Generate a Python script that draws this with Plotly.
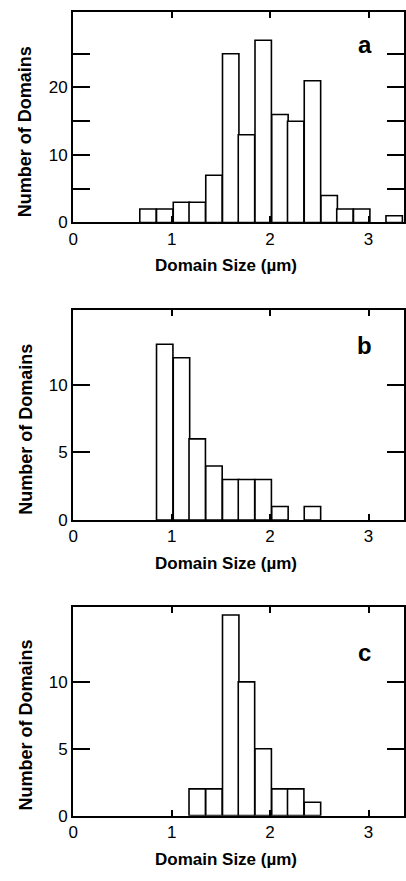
import plotly.graph_objects as go

# Bin centres (µm) of the 1/6-µm histogram bins
bin_centers = [0.76, 0.93, 1.10, 1.26, 1.43, 1.60, 1.76, 1.93,
               2.10, 2.26, 2.43, 2.60, 2.76, 2.93, 3.10, 3.26]
bin_width = 0.1667

counts_a = [2, 2, 3, 3, 7, 25, 13, 27, 16, 15, 21, 4, 2, 2, 0, 1]
counts_b = [0, 13, 12, 6, 4, 3, 3, 3, 1, 0, 1, 0, 0, 0, 0, 0]
counts_c = [0, 0, 0, 2, 2, 15, 10, 5, 2, 2, 1, 0, 0, 0, 0, 0]

panel_labels = ["a", "b", "c"]
x_ticks = [0, 1, 2, 3]
x_ticktext = ["0", "1", "2", "3"]
y_ticks_a = [0, 5, 10, 15, 20, 25]
y_ticktext_a = ["0", "", "10", "", "20", ""]
y_ticks_bc = [0, 5, 10]
y_ticktext_bc = ["0", "5", "10"]
y_ranges = [[0, 31.2], [0, 15.5], [0, 15.6]]
x_title = "Domain Size (µm)"
y_title = "Number of Domains"

W, H = 406, 881
FONT = "Liberation Sans, Arial, Helvetica, sans-serif"

# panel pixel boxes (top, bottom)
panels_px = [(12, 225), (314, 526), (614, 825)]
xl, xr = 69, 404

fig = go.Figure()
all_counts = [counts_a, counts_b, counts_c]
layout_axes = {}
annotations = []
for i, (counts, (pt, pb)) in enumerate(zip(all_counts, panels_px)):
    n = i + 1
    xs = [c for c, v in zip(bin_centers, counts) if v > 0]
    ys = [v for v in counts if v > 0]
    xa = "x" if n == 1 else f"x{n}"
    ya = "y" if n == 1 else f"y{n}"
    fig.add_trace(go.Bar(
        x=xs, y=ys, width=[bin_width] * len(xs),
        marker=dict(color="white", line=dict(color="black", width=1.6)),
        xaxis=xa, yaxis=ya, showlegend=False, hoverinfo="x+y"))
    xkey = "xaxis" if n == 1 else f"xaxis{n}"
    ykey = "yaxis" if n == 1 else f"yaxis{n}"
    layout_axes[xkey] = dict(
        domain=[xl / W, xr / W], range=[0, 3.36], anchor=ya,
        tickvals=x_ticks, ticktext=x_ticktext,
        ticks="inside", ticklen=6, tickwidth=1.5, tickcolor="black",
        showline=True, linecolor="black", linewidth=2, mirror="ticks",
        showgrid=False, zeroline=False,
        tickfont=dict(family=FONT, size=17, color="black"))
    if n == 1:
        tv, tt = y_ticks_a, y_ticktext_a
    else:
        tv, tt = y_ticks_bc, y_ticktext_bc
    layout_axes[ykey] = dict(
        domain=[1 - pb / H, 1 - pt / H], range=y_ranges[i], anchor=xa,
        tickvals=tv, ticktext=tt, ticksuffix="\u00a0\u00a0",
        ticks="inside", ticklen=17, tickwidth=1.5, tickcolor="black",
        showline=True, linecolor="black", linewidth=2, mirror="ticks",
        showgrid=False, zeroline=False,
        tickfont=dict(family=FONT, size=17, color="black"))
    # x axis title
    annotations.append(dict(
        text=x_title, xref="paper", yref="paper",
        x=224 / W, y=1 - (pb + 44) / H, xanchor="center", yanchor="middle",
        showarrow=False, font=dict(family=FONT, size=17, color="black", weight="bold")))
    # y axis title
    annotations.append(dict(
        text=y_title, xref="paper", yref="paper", textangle=-90,
        x=21 / W, y=1 - (pb - 92) / H, xanchor="center", yanchor="middle",
        showarrow=False, font=dict(family=FONT, size=18, color="black", weight="bold")))
    # panel letter
    letter_y = [45, 349, 660][i]
    annotations.append(dict(
        text=panel_labels[i], xref="paper", yref="paper",
        x=364 / W, y=1 - letter_y / H, xanchor="center", yanchor="middle",
        showarrow=False, font=dict(family=FONT, size=24, color="black", weight="bold")))

fig.update_layout(
    width=W, height=H, margin=dict(l=0, r=0, t=0, b=0),
    paper_bgcolor="white", plot_bgcolor="white",
    annotations=annotations, **layout_axes)

fig.write_html("out.html", config={"displayModeBar": False},
               post_script="document.body.style.margin='0';document.body.style.overflow='hidden';")
